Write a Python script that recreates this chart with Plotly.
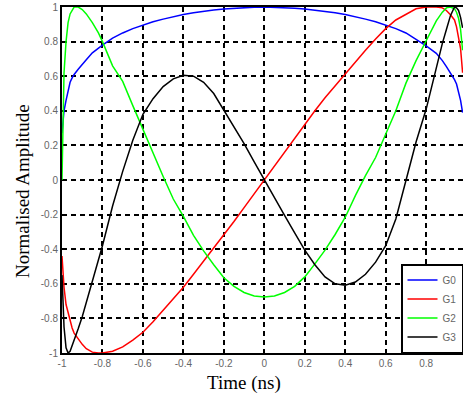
import plotly.graph_objects as go

# Time axis (ns)
t_ns = [-1, -0.99, -0.98, -0.97, -0.96, -0.95, -0.94, -0.92, -0.9, -0.88, -0.85, -0.82, -0.8,
        -0.75, -0.7, -0.65, -0.6, -0.55, -0.5, -0.45, -0.4, -0.35, -0.3, -0.25, -0.2, -0.15,
        -0.1, -0.05, 0, 0.05, 0.1, 0.15, 0.2, 0.25, 0.3, 0.35, 0.4, 0.45, 0.5, 0.55, 0.6,
        0.65, 0.7, 0.75, 0.8, 0.85, 0.88, 0.9, 0.92, 0.94, 0.95, 0.96, 0.97, 0.98]

g0 = [0.27, 0.40, 0.46, 0.52, 0.565, 0.59, 0.61, 0.64, 0.665, 0.695, 0.735, 0.765, 0.78,
      0.82, 0.85, 0.875, 0.895, 0.915, 0.93, 0.945, 0.957, 0.967, 0.976, 0.983, 0.989, 0.993,
      0.997, 0.999, 1.0, 0.999, 0.997, 0.993, 0.989, 0.983, 0.976, 0.967, 0.957, 0.945, 0.93,
      0.915, 0.895, 0.875, 0.85, 0.815, 0.775, 0.732, 0.69, 0.655, 0.62, 0.58, 0.555, 0.51,
      0.46, 0.39]

g1 = [-0.44, -0.62, -0.72, -0.77, -0.82, -0.855, -0.885, -0.92, -0.95, -0.975, -0.995, -1.0,
      -1.0, -0.99, -0.965, -0.925, -0.88, -0.82, -0.755, -0.69, -0.62, -0.545, -0.47, -0.395,
      -0.32, -0.24, -0.16, -0.08, 0.0, 0.08, 0.165, 0.245, 0.325, 0.4, 0.475, 0.545, 0.615,
      0.685, 0.75, 0.815, 0.875, 0.925, 0.96, 0.99, 1.0, 1.0, 0.995, 0.98, 0.955, 0.925,
      0.885, 0.83, 0.76, 0.62]

g2 = [0.0, 0.62, 0.8, 0.91, 0.96, 0.985, 1.0, 1.0, 0.985, 0.96, 0.91, 0.85, 0.8,
      0.66, 0.57, 0.43, 0.29, 0.15, 0.02, -0.11, -0.21, -0.32, -0.41, -0.49, -0.565, -0.615,
      -0.65, -0.67, -0.676, -0.67, -0.65, -0.615, -0.56, -0.485, -0.405, -0.315, -0.215,
      -0.09, 0.025, 0.13, 0.26, 0.40, 0.56, 0.69, 0.805, 0.92, 0.97, 0.995, 1.0, 0.99, 0.97,
      0.935, 0.87, 0.75]

g3 = [-0.55, -0.85, -0.97, -1.0, -0.99, -0.96, -0.92, -0.86, -0.79, -0.71, -0.59, -0.47,
      -0.38, -0.15, 0.05, 0.23, 0.38, 0.47, 0.54, 0.585, 0.605, 0.6, 0.565, 0.5, 0.405, 0.305,
      0.21, 0.105, 0.0, -0.105, -0.205, -0.305, -0.405, -0.49, -0.56, -0.6, -0.608, -0.59,
      -0.545, -0.475, -0.38, -0.225, 0.0, 0.22, 0.41, 0.65, 0.79, 0.87, 0.95, 1.0, 0.995,
      0.98, 0.94, 0.88]

series_names = ["G0", "G1", "G2", "G3"]
series_colors = ["#0000ff", "#ff0000", "#00ff00", "#000000"]

x_tickvals = [-1, -0.8, -0.6, -0.4, -0.2, 0, 0.2, 0.4, 0.6, 0.8]
x_ticktext = ["-1", "-0.8", "-0.6", "-0.4", "-0.2", "0", "0.2", "0.4", "0.6", "0.8"]
y_tickvals = [-1, -0.8, -0.6, -0.4, -0.2, 0, 0.2, 0.4, 0.6, 0.8, 1]
y_ticktext = ["-1", "-0.8", "-0.6", "-0.4", "-0.2", "0", "0.2", "0.4", "0.6", "0.8", "1"]

fig = go.Figure()
for name, ys, col in zip(series_names, [g0, g1, g2, g3], series_colors):
    fig.add_trace(go.Scatter(x=t_ns, y=ys, mode="lines", name=name,
                             line=dict(color=col, width=1.5)))

tick_font = dict(family="Liberation Sans, Arial, sans-serif", size=10, color="#666666")
title_font = dict(family="Liberation Serif, Times New Roman, serif", size=19, color="#000000")

fig.update_layout(
    width=463, height=400,
    margin=dict(l=62, r=0, t=7, b=47),
    paper_bgcolor="white", plot_bgcolor="white",
    showlegend=True,
    legend=dict(x=1, y=0, xanchor="right", yanchor="bottom",
                bgcolor="white", bordercolor="black", borderwidth=1.5,
                font=dict(family="Liberation Sans, Arial, sans-serif", size=10, color="#666666"),
                tracegroupgap=0, itemwidth=30),
    xaxis=dict(range=[-1, 0.982], tickvals=x_tickvals, ticktext=x_ticktext,
               showgrid=True, gridcolor="black", gridwidth=1.5, griddash="5px,4px",
               zeroline=False, showline=True, linecolor="black", linewidth=2, mirror=True,
               ticks="", tickfont=tick_font),
    yaxis=dict(range=[-1, 1], tickvals=y_tickvals, ticktext=y_ticktext,
               showgrid=True, gridcolor="black", gridwidth=1.5, griddash="5px,4px",
               zeroline=False, showline=True, linecolor="black", linewidth=2,
               ticks="", tickfont=tick_font),
    annotations=[
        dict(text="Time (ns)", xref="paper", yref="paper", x=0.454, y=-0.0867,
             xanchor="center", yanchor="middle", showarrow=False, font=title_font),
        dict(text="Normalised Amplitude", xref="paper", yref="paper", x=-0.0998, y=0.468,
             xanchor="center", yanchor="middle", textangle=-90, showarrow=False,
             font=title_font),
    ],
)

fig.write_html("out.html", config={"displayModeBar": False},
               post_script="document.body.style.margin='0';")
